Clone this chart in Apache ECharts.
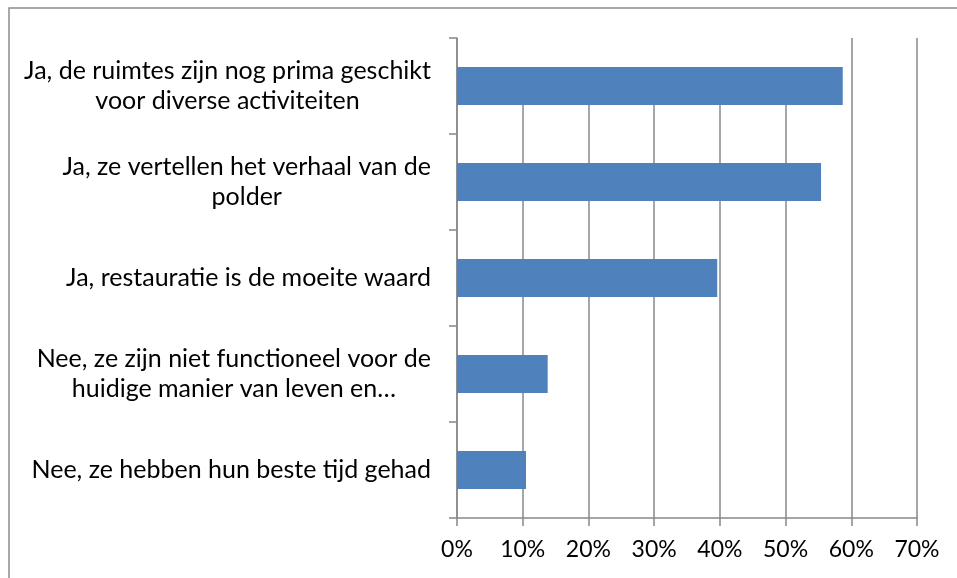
<!DOCTYPE html>
<html>
<head>
<meta charset="utf-8">
<script src="https://cdn.jsdelivr.net/npm/echarts@6/dist/echarts.min.js"></script>
<style>
  html, body { margin: 0; padding: 0; background: #fff; }
  #chart { width: 957px; height: 578px; }
</style>
</head>
<body>
<div id="chart"></div>
<script>
var categories = [
    'Ja, de ruimtes zijn nog prima geschikt\nvoor diverse activiteiten',
    'Ja, ze vertellen het verhaal van de\npolder',
    'Ja, restauratie is de moeite waard',
    'Nee, ze zijn niet functioneel voor de\nhuidige manier van leven en…',
    'Nee, ze hebben hun beste tijd gehad'
];
var values = [0.587, 0.554, 0.396, 0.138, 0.105];
var tickLabels = ['0%', '10%', '20%', '30%', '40%', '50%', '60%', '70%'];

var myChart = echarts.init(document.getElementById('chart'));
var font = 'Lato';
var option = {
    animation: false,
    backgroundColor: '#fff',
    textStyle: { fontFamily: font },
    grid: { left: 457, right: 40, top: 38, bottom: 60, containLabel: false },
    graphic: [
        {
            type: 'rect', z: -10, silent: true,
            shape: { x: 9, y: 8, width: 1000, height: 700 },
            style: { fill: '#fff', stroke: '#8c8c8c', lineWidth: 1.5 }
        },
        {
            type: 'rect', z: 1, silent: true,
            shape: { x: 460, y: 37, width: 388, height: 30 },
            style: { fill: '#fff' }
        }
    ],
    xAxis: {
        type: 'value',
        min: 0,
        max: 0.7,
        interval: 0.1,
        axisLine: { show: true, lineStyle: { color: '#888', width: 1.5 } },
        axisTick: { show: true, length: 8, lineStyle: { color: '#888', width: 1.5 } },
        splitLine: { show: true, lineStyle: { color: '#888', width: 1.5 } },
        axisLabel: {
            margin: 20,
            color: '#000',
            fontSize: 23,
            fontFamily: font,
            formatter: function (v) { return tickLabels[Math.round(v * 10)]; }
        }
    },
    yAxis: {
        type: 'category',
        inverse: true,
        data: categories,
        axisLine: { show: true, lineStyle: { color: '#888', width: 1.5 } },
        axisTick: { show: true, length: 8, lineStyle: { color: '#888', width: 1.5 } },
        axisLabel: {
            margin: 26,
            color: '#000',
            fontSize: 25,
            fontFamily: font,
            formatter: function (v) {
                return v.split('\n').map(function (s) { return '{c|' + s + '}'; }).join('\n');
            },
            rich: {
                c: { align: 'center', fontSize: 25, fontFamily: font, color: '#000', lineHeight: 30 }
            }
        }
    },
    series: [
        {
            type: 'bar',
            data: values,
            barWidth: 38,
            itemStyle: { color: '#4F81BD' }
        }
    ]
};
myChart.setOption(option);
</script>
</body>
</html>
